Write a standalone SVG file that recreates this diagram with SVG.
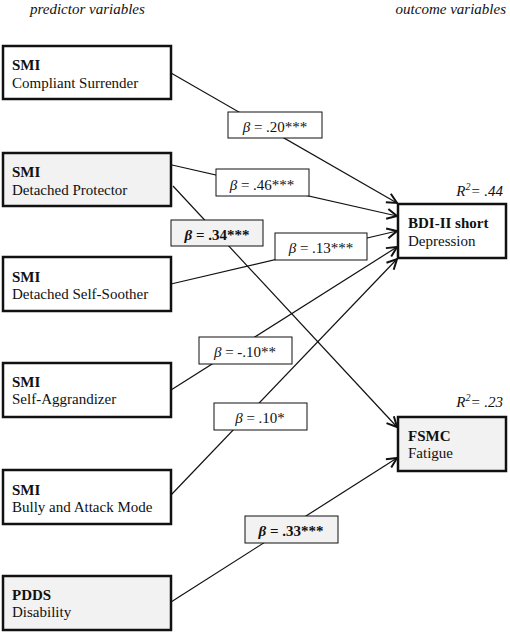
<svg xmlns="http://www.w3.org/2000/svg" width="510" height="634" viewBox="0 0 510 634">
<style>
text{font-family:"Liberation Serif","Times New Roman",serif;font-size:15px;fill:#111}
.hd{font-style:italic}
.b{font-weight:bold}
.node{fill:#fff;stroke:#111;stroke-width:2.5}
.gray{fill:#f2f2f2}
.conn{stroke:#111;stroke-width:1.2;fill:none;marker-end:url(#arr)}
.lab{fill:#fff;stroke:#111;stroke-width:1}
.labg{fill:#f2f2f2;stroke:#111;stroke-width:1}
.it{font-style:italic}
</style>
<defs>
<marker id="arr" markerUnits="userSpaceOnUse" markerWidth="14" markerHeight="14" refX="11" refY="6" orient="auto">
<path d="M1,1 L11,6 L1,11" fill="none" stroke="#111" stroke-width="2"/>
</marker>
</defs>
<rect width="510" height="634" fill="#fff"/>
<text class="hd" x="30" y="14">predictor variables</text>
<text class="hd" x="506" y="14" text-anchor="end">outcome variables</text>

<g id="connectors">
<line class="conn" x1="171" y1="73" x2="397" y2="203"/>
<line class="conn" x1="172" y1="165" x2="397" y2="216"/>
<line class="conn" x1="173" y1="186" x2="397" y2="427"/>
<line class="conn" x1="171" y1="284" x2="397" y2="231"/>
<line class="conn" x1="171" y1="390" x2="397" y2="247"/>
<line class="conn" x1="171" y1="495" x2="397" y2="259"/>
<line class="conn" x1="171" y1="602" x2="397" y2="458"/>
</g>

<g id="labels">
<g id="l1"><rect class="lab" x="228" y="112" width="94" height="26"/><text x="275" y="132" text-anchor="middle"><tspan class="it">β</tspan> = .20***</text></g>
<g id="l2"><rect class="lab" x="216" y="169" width="93" height="27"/><text x="262" y="190" text-anchor="middle"><tspan class="it">β</tspan> = .46***</text></g>
<g id="l3"><rect class="labg" x="171" y="220" width="92" height="26"/><text class="b" x="217" y="240" text-anchor="middle"><tspan class="it">β</tspan> = .34***</text></g>
<g id="l4"><rect class="lab" x="275" y="233" width="92" height="27"/><text x="321" y="253" text-anchor="middle"><tspan class="it">β</tspan> = .13***</text></g>
<g id="l5"><rect class="lab" x="199" y="337" width="93" height="27"/><text x="245" y="357" text-anchor="middle"><tspan class="it">β</tspan> = -.10**</text></g>
<g id="l6"><rect class="lab" x="214" y="403" width="93" height="27"/><text x="260" y="423" text-anchor="middle"><tspan class="it">β</tspan> = .10*</text></g>
<g id="l7"><rect class="labg" x="245" y="516" width="93" height="27"/><text class="b" x="291" y="536" text-anchor="middle"><tspan class="it">β</tspan> = .33***</text></g>
</g>

<g id="n1"><rect class="node" x="3" y="46" width="168" height="53"/><text class="b" x="12" y="70">SMI</text><text x="12" y="88">Compliant Surrender</text></g>
<g id="n2"><rect class="node gray" x="3" y="153" width="168" height="53"/><text class="b" x="12" y="177">SMI</text><text x="12" y="195">Detached Protector</text></g>
<g id="n3"><rect class="node" x="3" y="257" width="168" height="54"/><text class="b" x="12" y="282">SMI</text><text x="12" y="299">Detached Self-Soother</text></g>
<g id="n4"><rect class="node" x="3" y="363" width="168" height="54"/><text class="b" x="12" y="387">SMI</text><text x="12" y="404">Self-Aggrandizer</text></g>
<g id="n5"><rect class="node" x="3" y="470" width="168" height="54"/><text class="b" x="12" y="495">SMI</text><text x="12" y="512">Bully and Attack Mode</text></g>
<g id="n6"><rect class="node gray" x="3" y="576" width="168" height="54"/><text class="b" x="12" y="600">PDDS</text><text x="12" y="617">Disability</text></g>

<g id="bdi"><rect class="node" x="398" y="204" width="108" height="54"/><text class="b" x="408" y="228">BDI-II short</text><text x="408" y="246">Depression</text>
<text class="it" x="503" y="196" text-anchor="end">R<tspan font-size="10" dy="-6">2</tspan><tspan dy="6">= .44</tspan></text></g>
<g id="fsmc"><rect class="node gray" x="398" y="417" width="108" height="54"/><text class="b" x="408" y="441">FSMC</text><text x="408" y="458">Fatigue</text>
<text class="it" x="503" y="407" text-anchor="end">R<tspan font-size="10" dy="-6">2</tspan><tspan dy="6">= .23</tspan></text></g>
</svg>
